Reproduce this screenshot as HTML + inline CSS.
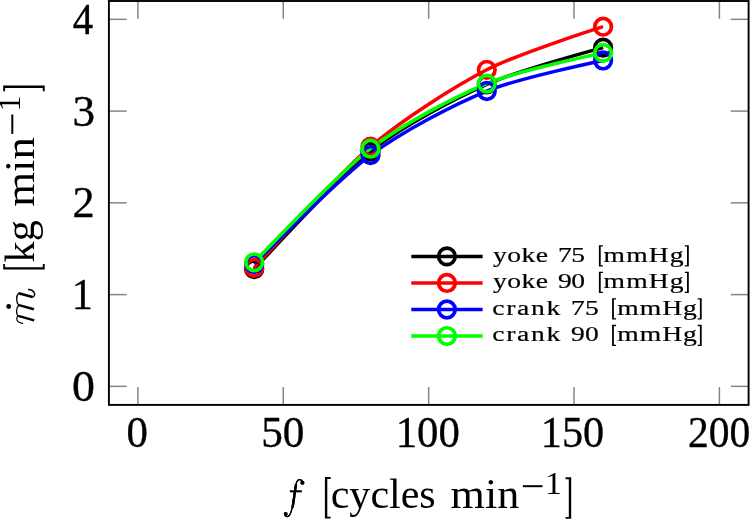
<!DOCTYPE html>
<html><head><meta charset="utf-8"><style>
html,body{margin:0;padding:0;background:#fff;}
svg{display:block;will-change:transform;}
.tk{stroke:#000;stroke-width:0.35px;}
text{font-family:"Liberation Serif",serif;fill:#000;}
.lg{stroke:#000;stroke-width:0.2px;}
.thin{stroke:#fff;stroke-width:0.7px;}
</style></head><body>
<svg width="750" height="519" viewBox="0 0 750 519">
<g stroke="#858585" stroke-width="1.5">
<line x1="137.90" y1="404.90" x2="137.90" y2="387.10"/>
<line x1="137.90" y1="1.00" x2="137.90" y2="18.80"/>
<line x1="283.27" y1="404.90" x2="283.27" y2="387.10"/>
<line x1="283.27" y1="1.00" x2="283.27" y2="18.80"/>
<line x1="428.65" y1="404.90" x2="428.65" y2="387.10"/>
<line x1="428.65" y1="1.00" x2="428.65" y2="18.80"/>
<line x1="574.03" y1="404.90" x2="574.03" y2="387.10"/>
<line x1="574.03" y1="1.00" x2="574.03" y2="18.80"/>
<line x1="719.40" y1="404.90" x2="719.40" y2="387.10"/>
<line x1="719.40" y1="1.00" x2="719.40" y2="18.80"/>
<line x1="108.90" y1="386.35" x2="126.70" y2="386.35"/>
<line x1="748.60" y1="386.35" x2="730.80" y2="386.35"/>
<line x1="108.90" y1="294.60" x2="126.70" y2="294.60"/>
<line x1="748.60" y1="294.60" x2="730.80" y2="294.60"/>
<line x1="108.90" y1="202.85" x2="126.70" y2="202.85"/>
<line x1="748.60" y1="202.85" x2="730.80" y2="202.85"/>
<line x1="108.90" y1="111.10" x2="126.70" y2="111.10"/>
<line x1="748.60" y1="111.10" x2="730.80" y2="111.10"/>
<line x1="108.90" y1="19.35" x2="126.70" y2="19.35"/>
<line x1="748.60" y1="19.35" x2="730.80" y2="19.35"/>
</g>
<rect x="108.9" y="1.0" width="639.70" height="403.90" fill="none" stroke="#000" stroke-width="1.9"/>
<path d="M254.20,269.19 C254.20,269.19 338.52,176.71 370.50,151.29 C402.48,125.87 454.82,98.56 486.80,84.31 C518.78,70.05 603.10,47.61 603.10,47.61" fill="none" stroke="#000" stroke-width="3.5"/>
<path d="M254.20,267.81 C254.20,267.81 338.52,173.92 370.50,146.70 C402.48,119.47 454.82,86.31 486.80,69.81 C518.78,53.31 603.10,26.69 603.10,26.69" fill="none" stroke="#f00" stroke-width="3.5"/>
<path d="M254.20,264.05 C254.20,264.05 338.52,178.84 370.50,155.05 C402.48,131.26 454.82,104.01 486.80,91.01 C518.78,78.00 603.10,60.45 603.10,60.45" fill="none" stroke="#00f" stroke-width="3.5"/>
<path d="M254.20,262.30 C254.20,262.30 338.52,173.29 370.50,148.72 C402.48,124.14 454.82,96.76 486.80,83.58 C518.78,70.39 603.10,52.84 603.10,52.84" fill="none" stroke="#0f0" stroke-width="3.5"/>
<circle cx="254.20" cy="269.19" r="8.3" fill="none" stroke="#000" stroke-width="3.7"/>
<circle cx="370.50" cy="151.29" r="8.3" fill="none" stroke="#000" stroke-width="3.7"/>
<circle cx="486.80" cy="84.31" r="8.3" fill="none" stroke="#000" stroke-width="3.7"/>
<circle cx="603.10" cy="47.61" r="8.3" fill="none" stroke="#000" stroke-width="3.7"/>
<circle cx="254.20" cy="267.81" r="8.3" fill="none" stroke="#f00" stroke-width="3.7"/>
<circle cx="370.50" cy="146.70" r="8.3" fill="none" stroke="#f00" stroke-width="3.7"/>
<circle cx="486.80" cy="69.81" r="8.3" fill="none" stroke="#f00" stroke-width="3.7"/>
<circle cx="603.10" cy="26.69" r="8.3" fill="none" stroke="#f00" stroke-width="3.7"/>
<circle cx="254.20" cy="264.05" r="8.3" fill="none" stroke="#00f" stroke-width="3.7"/>
<circle cx="370.50" cy="155.05" r="8.3" fill="none" stroke="#00f" stroke-width="3.7"/>
<circle cx="486.80" cy="91.01" r="8.3" fill="none" stroke="#00f" stroke-width="3.7"/>
<circle cx="603.10" cy="60.45" r="8.3" fill="none" stroke="#00f" stroke-width="3.7"/>
<circle cx="254.20" cy="262.30" r="8.3" fill="none" stroke="#0f0" stroke-width="3.7"/>
<circle cx="370.50" cy="148.72" r="8.3" fill="none" stroke="#0f0" stroke-width="3.7"/>
<circle cx="486.80" cy="83.58" r="8.3" fill="none" stroke="#0f0" stroke-width="3.7"/>
<circle cx="603.10" cy="52.84" r="8.3" fill="none" stroke="#0f0" stroke-width="3.7"/>
<line x1="411.3" y1="256.40" x2="482.6" y2="256.40" stroke="#000" stroke-width="3.5"/>
<circle cx="446.9" cy="256.40" r="8.3" fill="none" stroke="#000" stroke-width="3.7"/>
<line x1="411.3" y1="282.95" x2="482.6" y2="282.95" stroke="#f00" stroke-width="3.5"/>
<circle cx="446.9" cy="282.95" r="8.3" fill="none" stroke="#f00" stroke-width="3.7"/>
<line x1="411.3" y1="309.50" x2="482.6" y2="309.50" stroke="#00f" stroke-width="3.5"/>
<circle cx="446.9" cy="309.50" r="8.3" fill="none" stroke="#00f" stroke-width="3.7"/>
<line x1="411.3" y1="336.05" x2="482.6" y2="336.05" stroke="#0f0" stroke-width="3.5"/>
<circle cx="446.9" cy="336.05" r="8.3" fill="none" stroke="#0f0" stroke-width="3.7"/>
<text transform="translate(126.55,447.20) scale(0.9737,1.0000)" style="font-size:44px;" class="tk">0</text>
<text transform="translate(261.15,447.20) scale(0.9825,1.0000)" style="font-size:44px;" class="tk">50</text>
<text transform="translate(395.71,447.20) scale(0.9721,1.0000)" style="font-size:44px;" class="tk">100</text>
<text transform="translate(540.86,447.20) scale(0.9607,1.0000)" style="font-size:44px;" class="tk">150</text>
<text transform="translate(688.01,447.20) scale(0.9444,1.0000)" style="font-size:44px;" class="tk">200</text>
<text transform="translate(72.82,33.80) scale(0.9286,0.9966)" style="font-size:44px;" class="tk">4</text>
<text transform="translate(72.44,125.55) scale(1.0278,0.9966)" style="font-size:44px;" class="tk">3</text>
<text transform="translate(72.49,217.30) scale(1.0056,0.9966)" style="font-size:44px;" class="tk">2</text>
<text transform="translate(71.85,309.05) scale(0.9625,0.9966)" style="font-size:44px;" class="tk">1</text>
<text transform="translate(71.92,400.80) scale(1.0421,0.9966)" style="font-size:44px;" class="tk">0</text>
<text transform="translate(330.70,508.30) scale(1.0010,1.0000)" style="font-size:42px;">cycles</text>
<text transform="translate(450.55,508.30) scale(1.0516,1.0000)" style="font-size:42px;">min</text>
<text transform="translate(545.01,494.00) scale(1.1300,1.0579)" style="font-size:30px;">1</text>
<text transform="translate(493.10,261.50) scale(1.3800,1.0000)" style="font-size:20px;letter-spacing:0.280px;" class="lg">yoke</text>
<text transform="translate(558.02,261.50) scale(1.3800,1.0000)" style="font-size:20px;letter-spacing:-0.464px;" class="lg">75</text>
<text transform="translate(603.62,261.50) scale(1.3800,1.0000)" style="font-size:20px;letter-spacing:0.768px;" class="lg">mmHg</text>
<text transform="translate(493.10,288.05) scale(1.3800,1.0000)" style="font-size:20px;letter-spacing:0.280px;" class="lg">yoke</text>
<text transform="translate(558.02,288.05) scale(1.3800,1.0000)" style="font-size:20px;letter-spacing:-0.464px;" class="lg">90</text>
<text transform="translate(603.62,288.05) scale(1.3800,1.0000)" style="font-size:20px;letter-spacing:0.768px;" class="lg">mmHg</text>
<text transform="translate(492.22,314.60) scale(1.3800,1.0000)" style="font-size:20px;letter-spacing:1.225px;" class="lg">crank</text>
<text transform="translate(571.12,314.60) scale(1.3800,1.0000)" style="font-size:20px;letter-spacing:-0.029px;" class="lg">75</text>
<text transform="translate(617.32,314.60) scale(1.3800,1.0000)" style="font-size:20px;letter-spacing:0.696px;" class="lg">mmHg</text>
<text transform="translate(492.22,341.15) scale(1.3800,1.0000)" style="font-size:20px;letter-spacing:1.225px;" class="lg">crank</text>
<text transform="translate(571.12,341.15) scale(1.3800,1.0000)" style="font-size:20px;letter-spacing:-0.029px;" class="lg">90</text>
<text transform="translate(617.32,341.15) scale(1.3800,1.0000)" style="font-size:20px;letter-spacing:0.696px;" class="lg">mmHg</text>
<g fill="#000"><path d="M302.6,482.4 C302.2,479.2 298.4,478.6 296.8,481.8 C295.4,485 293.9,497 292.4,506.5 C291.4,512 289.6,516.6 287.2,516.7 C285.8,516.8 285.0,515.4 285.5,513.8" fill="none" stroke="#000" stroke-width="1.3"/><path d="M296.0,484.5 C295.0,491 294.0,499 292.6,507.5" fill="none" stroke="#000" stroke-width="2.3"/><circle cx="302.4" cy="482.7" r="2.0"/><circle cx="285.7" cy="514.0" r="1.9"/><rect x="289.9" y="490.5" width="11.8" height="1.7"/></g>
<path d="M324.90,477.10 h5.70 v1.90 h-3.30 v37.70 h3.30 v1.90 h-5.70 z"/>
<path d="M571.20,477.30 h-5.70 v1.90 h3.30 v37.70 h-3.30 v1.90 h5.70 z"/>
<rect x="522.9" y="485.2" width="19.6" height="2.0"/>
<path d="M598.90,245.20 h4.00 v1.30 h-2.20 v18.65 h2.20 v1.30 h-4.00 z"/>
<path d="M688.80,245.20 h-4.00 v1.30 h2.20 v18.65 h-2.20 v1.30 h4.00 z"/>
<path d="M598.90,271.75 h4.00 v1.30 h-2.20 v18.65 h2.20 v1.30 h-4.00 z"/>
<path d="M688.80,271.75 h-4.00 v1.30 h2.20 v18.65 h-2.20 v1.30 h4.00 z"/>
<path d="M612.10,298.30 h4.00 v1.30 h-2.20 v18.65 h2.20 v1.30 h-4.00 z"/>
<path d="M701.70,298.30 h-4.00 v1.30 h2.20 v18.65 h-2.20 v1.30 h4.00 z"/>
<path d="M612.10,324.85 h4.00 v1.30 h-2.20 v18.65 h2.20 v1.30 h-4.00 z"/>
<path d="M701.70,324.85 h-4.00 v1.30 h2.20 v18.65 h-2.20 v1.30 h4.00 z"/>
<g fill="#000"><path d="M302.6,482.4 C302.2,479.2 298.4,478.6 296.8,481.8 C295.4,485 293.9,497 292.4,506.5 C291.4,512 289.6,516.6 287.2,516.7 C285.8,516.8 285.0,515.4 285.5,513.8" fill="none" stroke="#000" stroke-width="1.3"/><path d="M296.0,484.5 C295.0,491 294.0,499 292.6,507.5" fill="none" stroke="#000" stroke-width="2.3"/><circle cx="302.4" cy="482.7" r="2.0"/><circle cx="285.7" cy="514.0" r="1.9"/><rect x="289.9" y="490.5" width="11.8" height="1.7"/></g>
<circle cx="8.7" cy="306.5" r="2.4"/><g fill="none" stroke="#000" stroke-linecap="round">
<path d="M22.6,323.3 C19.6,323.0 16.9,321.4 16.8,318.8 C16.8,317.6 17.2,316.6 18.0,316.1" stroke-width="1.2"/>
<path d="M18.0,316.1 C16.0,313.5 15.9,308.0 18.8,305.3" stroke-width="1.3"/>
<path d="M18.8,305.3 C16.0,302.0 15.9,296.2 18.6,293.3" stroke-width="1.3"/>
<path d="M18.2,315.9 L34.2,320.4" stroke-width="2.5" stroke-linecap="butt"/>
<path d="M18.9,305.1 L33.9,309.2" stroke-width="2.5" stroke-linecap="butt"/>
<path d="M18.7,293.2 L32.6,297.0" stroke-width="2.5" stroke-linecap="butt"/>
<path d="M32.4,296.9 C34.4,297.3 35.2,294.5 34.2,292.6 C33.2,290.6 31.0,289.6 28.6,289.5" stroke-width="1.4"/>
</g>
<g transform="rotate(-90)">
<text transform="translate(-262.40,34.40) scale(1.0050,1.0000)" style="font-size:42px;">kg</text>
<text transform="translate(-206.77,34.40) scale(1.0672,1.0000)" style="font-size:42px;">min</text>
<text transform="translate(-111.41,20.10) scale(1.0700,1.0579)" style="font-size:30px;">1</text>
<path d="M-269.60,3.20 h5.70 v1.90 h-3.30 v37.70 h3.30 v1.90 h-5.70 z"/>
<path d="M-85.60,3.20 h-5.70 v1.90 h3.30 v37.70 h-3.30 v1.90 h5.70 z"/>
<rect x="-133.9" y="11.30" width="19.4" height="2.0"/>
</g>
</svg>
</body></html>
